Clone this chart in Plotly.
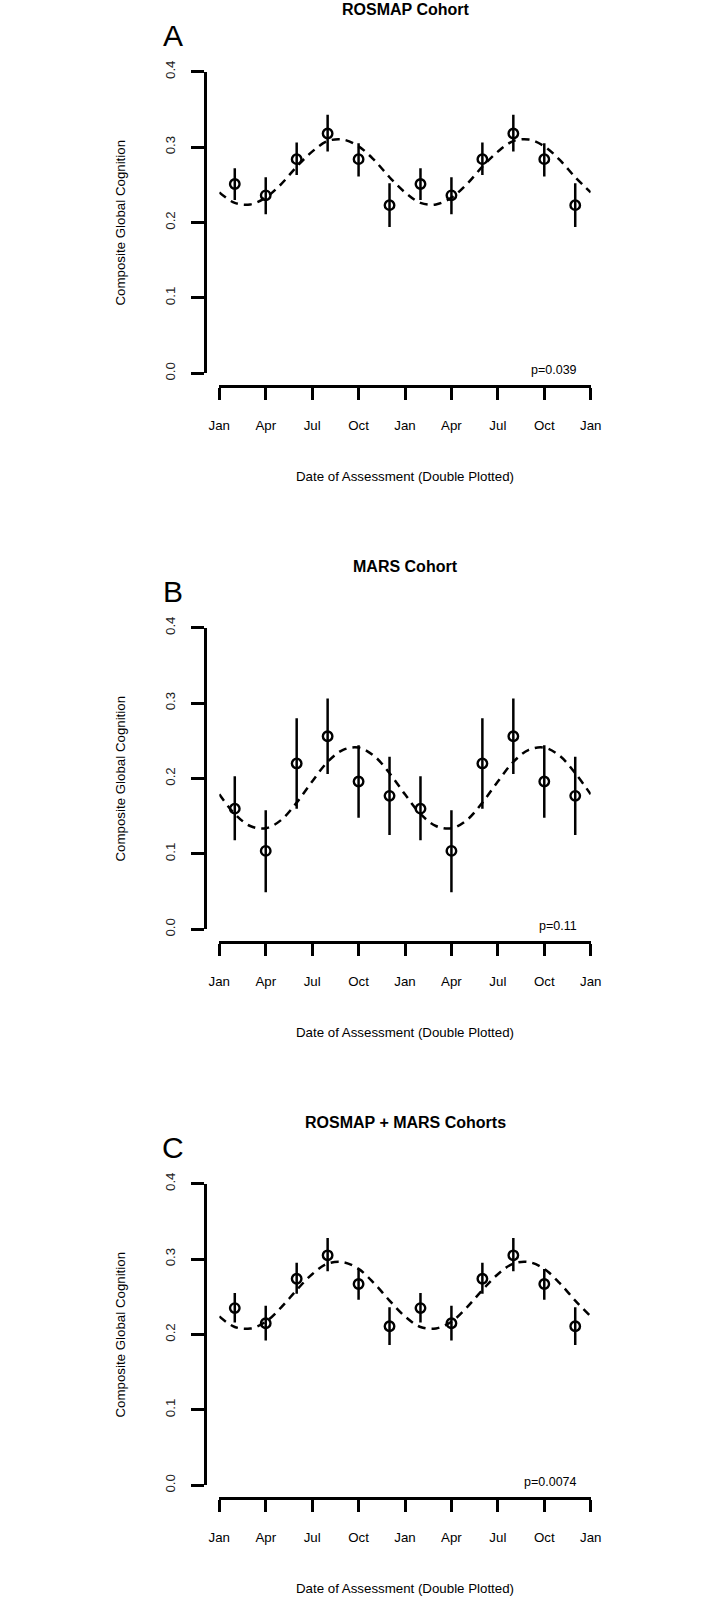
import plotly.graph_objects as go

# ---------------- data ----------------
tick_months = [0, 3, 6, 9, 12, 15, 18, 21, 24]
tick_labels = ["Jan", "Apr", "Jul", "Oct", "Jan", "Apr", "Jul", "Oct", "Jan"]
y_ticks = [0.0, 0.1, 0.2, 0.3, 0.4]

point_months = [1, 3, 5, 7, 9, 11]

rosmap_mean = [0.251, 0.236, 0.284, 0.318, 0.284, 0.223]
rosmap_upper = [0.272, 0.260, 0.306, 0.343, 0.305, 0.252]
rosmap_lower = [0.230, 0.211, 0.263, 0.294, 0.261, 0.194]

mars_mean = [0.160, 0.104, 0.220, 0.256, 0.196, 0.177]
mars_upper = [0.203, 0.158, 0.280, 0.306, 0.244, 0.229]
mars_lower = [0.118, 0.049, 0.160, 0.206, 0.148, 0.125]

comb_mean = [0.235, 0.215, 0.274, 0.305, 0.267, 0.211]
comb_upper = [0.255, 0.238, 0.295, 0.328, 0.287, 0.236]
comb_lower = [0.216, 0.192, 0.254, 0.284, 0.246, 0.186]

curve_months = [0, 1, 2, 3, 4, 5, 6, 7, 8, 9, 10, 11, 12]
rosmap_fit = [0.240, 0.226, 0.224, 0.233, 0.251, 0.274, 0.294, 0.308, 0.310, 0.301, 0.283, 0.260, 0.240]
mars_fit = [0.179, 0.153, 0.137, 0.134, 0.145, 0.168, 0.196, 0.222, 0.238, 0.241, 0.230, 0.207, 0.179]
comb_fit = [0.224, 0.210, 0.208, 0.217, 0.236, 0.259, 0.280, 0.294, 0.296, 0.287, 0.268, 0.245, 0.224]

titles = ["ROSMAP Cohort", "MARS Cohort", "ROSMAP + MARS Cohorts"]
letters = ["A", "B", "C"]
p_texts = ["p=0.039", "p=0.11", "p=0.0074"]
y_title = "Composite Global Cognition"
x_title = "Date of Assessment (Double Plotted)"

# ---------------- layout geometry (pixels) ----------------
W, H = 715, 1599
FONT = "Liberation Sans, Arial, Helvetica, sans-serif"
offsets = [0, 556, 1112]
x_left, x_right = 219.3, 590.7   # Jan ... Jan
y_top, y_bot = 71.7, 373.3       # 0.4 ... 0.0
xaxis_y = 386
yaxis_x = 205
title_y = 10
letter_y = 35
letter_x = 173
ytitle_x = 120
xtitle_y = 476.7
LAB = 13.3


def py(p):
    return 1 - p / H


def px(p):
    return p / W


series = [
    (rosmap_mean, rosmap_upper, rosmap_lower, rosmap_fit),
    (mars_mean, mars_upper, mars_lower, mars_fit),
    (comb_mean, comb_upper, comb_lower, comb_fit),
]

fig = go.Figure()
annotations = []
layout_axes = {}

for i, (mean, upper, lower, fit) in enumerate(series):
    off = offsets[i]
    sfx = "" if i == 0 else str(i + 1)
    xa, ya = "x" + sfx, "y" + sfx

    xs = point_months + [m + 12 for m in point_months]
    ys = mean + mean
    ups = [u - m for u, m in zip(upper, mean)] * 2
    downs = [m - l for l, m in zip(lower, mean)] * 2

    cx = curve_months + [m + 12 for m in curve_months[1:]]
    cy = fit + fit[1:]

    fig.add_trace(go.Scatter(
        x=cx, y=cy, mode="lines", xaxis=xa, yaxis=ya,
        line=dict(color="black", width=2.5, dash="8px,6px", shape="spline"),
        hoverinfo="skip", showlegend=False,
    ))
    fig.add_trace(go.Scatter(
        x=xs, y=ys, mode="markers", xaxis=xa, yaxis=ya,
        marker=dict(symbol="circle-open", size=9.5, color="black",
                    line=dict(color="black", width=2.4)),
        error_y=dict(type="data", symmetric=False, array=ups, arrayminus=downs,
                     color="black", thickness=2.5, width=0),
        showlegend=False,
    ))

    layout_axes["xaxis" + sfx] = dict(
        domain=[px(x_left), px(x_right)], range=[0, 24], anchor="free",
        position=py(xaxis_y + off), side="bottom", automargin=False,
        showline=True, linecolor="black", linewidth=2.5,
        ticks="outside", ticklen=12, tickwidth=2.5, tickcolor="black",
        tickmode="array", tickvals=tick_months, ticktext=tick_labels,
        tickfont=dict(family=FONT, size=LAB, color="black"),
        ticklabelstandoff=14,
        showgrid=False, zeroline=False, fixedrange=True,
    )
    layout_axes["yaxis" + sfx] = dict(
        domain=[py(y_bot + off), py(y_top + off)], range=[0, 0.4], anchor="free",
        position=px(yaxis_x), side="left", automargin=False,
        showline=True, linecolor="black", linewidth=2.5,
        ticks="outside", ticklen=13, tickwidth=2.5, tickcolor="black",
        tickmode="array", tickvals=y_ticks, tickformat=".1f", tickangle=-90,
        tickfont=dict(family=FONT, size=LAB, color="#222"),
        ticklabelstandoff=11,
        showgrid=False, zeroline=False, fixedrange=True,
    )

    annotations += [
        dict(text="<b>" + titles[i] + "</b>", x=px((x_left + x_right) / 2), y=py(title_y + off),
             xref="paper", yref="paper", xanchor="center", yanchor="middle", showarrow=False,
             font=dict(family=FONT, size=16, color="black")),
        dict(text=letters[i], x=px(letter_x), y=py(letter_y + off),
             xref="paper", yref="paper", xanchor="center", yanchor="middle", showarrow=False,
             font=dict(family=FONT, size=30, color="black")),
        dict(text=y_title, x=px(ytitle_x), y=py((y_top + y_bot) / 2 + off), textangle=-90,
             xref="paper", yref="paper", xanchor="center", yanchor="middle", showarrow=False,
             font=dict(family=FONT, size=LAB, color="black")),
        dict(text=x_title, x=px((x_left + x_right) / 2), y=py(xtitle_y + off),
             xref="paper", yref="paper", xanchor="center", yanchor="middle", showarrow=False,
             font=dict(family=FONT, size=LAB, color="black")),
        dict(text=p_texts[i], x=23.25, y=0.004, xref=xa, yref=ya,
             xanchor="right", yanchor="middle", showarrow=False,
             font=dict(family=FONT, size=12.5, color="black")),
    ]

fig.update_layout(
    template="none",
    width=W, height=H, margin=dict(l=0, r=0, t=0, b=0, autoexpand=False),
    paper_bgcolor="white", plot_bgcolor="white",
    showlegend=False, annotations=annotations, **layout_axes,
)

# remove the browser's default 8px page margin so the figure sits at the page origin
fig.write_html("out.html",
               config={"displayModeBar": False},
               post_script="document.body.style.margin='0';document.body.style.overflow='hidden';")
